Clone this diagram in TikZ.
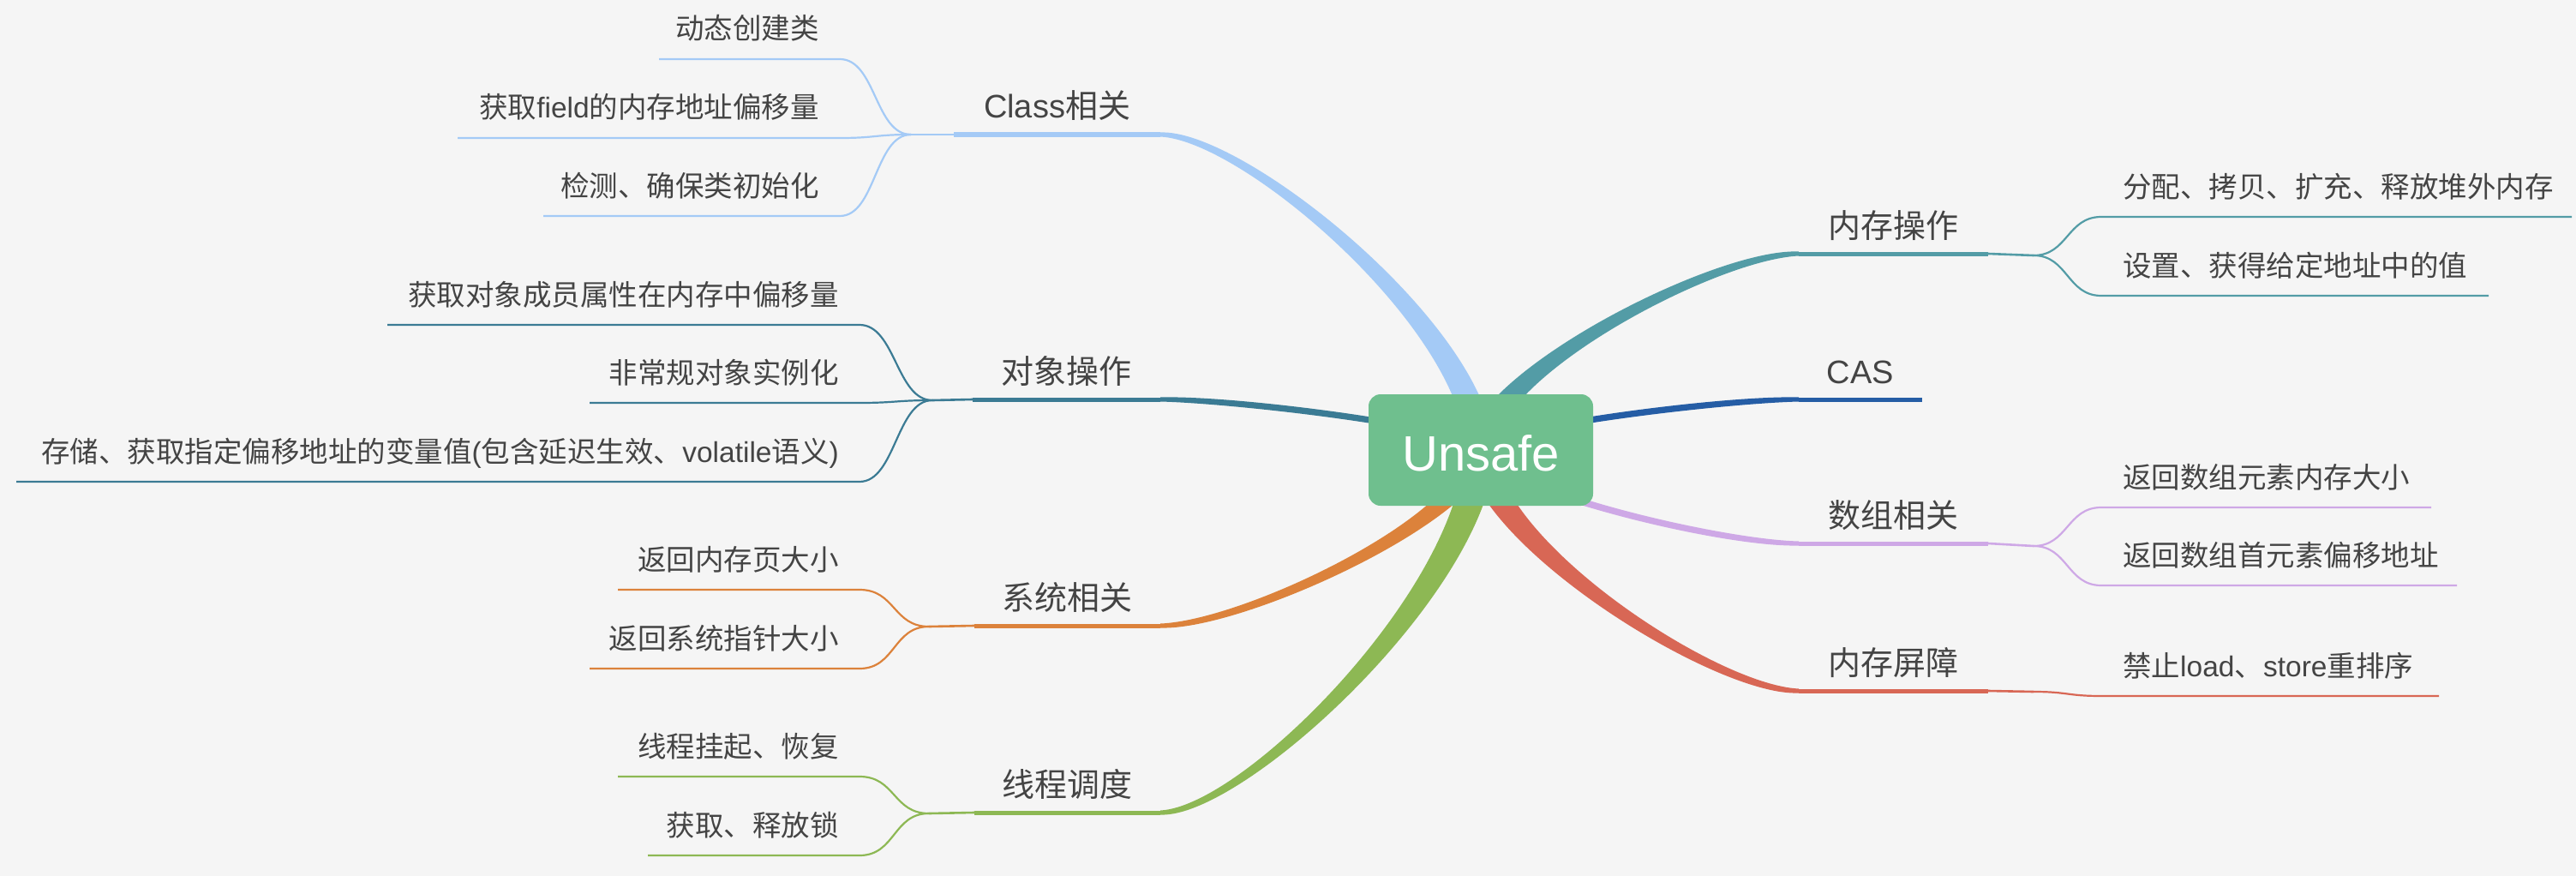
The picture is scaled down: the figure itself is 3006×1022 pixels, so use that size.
\documentclass[tikz,border=0pt]{standalone}
\usepackage{fontspec}
\setmainfont{Noto Sans CJK SC}
\newfontfamily\latf{Liberation Sans}
\usetikzlibrary{calc}
\definecolor{bgc}{HTML}{F5F5F5}
\definecolor{txt}{HTML}{444444}
\definecolor{rootc}{HTML}{6FBF8E}
\definecolor{clc}{HTML}{A4CAF6}
\definecolor{obc}{HTML}{3B7B94}
\definecolor{syc}{HTML}{DC823B}
\definecolor{thc}{HTML}{8DB854}
\definecolor{moc}{HTML}{539CA6}
\definecolor{casc}{HTML}{255DA5}
\definecolor{arc}{HTML}{CEA8E6}
\definecolor{mbc}{HTML}{D86755}
% #1 colour, #2 half width at root, #3 c1, #4 c2, #5 end, #6 half width at c2
\newcommand\mbranch[6]{%
  \fill[#1] ($(S)!#2!90:(#3)$) .. controls ($(#3)!#2!-90:(S)$) and ($(#4)!#6!90:(#5)$) .. ($(#5)!2.5pt!-90:(#4)$)
    -- ($(#5)!2.5pt!90:(#4)$) .. controls ($(#4)!#6!-90:(#5)$) and ($(#3)!#2!90:(S)$) .. ($(S)!#2!-90:(#3)$) -- cycle;}
\tikzset{
  ctext/.style={text=txt, inner sep=0pt, font=\fontsize{33.5}{40}\selectfont},
  mtext/.style={text=txt, inner sep=0pt, anchor=base, font=\fontsize{38}{44}\selectfont},
  uline/.style={line width=5pt},
  fline/.style={line width=2.6pt},
  cline/.style={line width=2.2pt},
  rootbox/.style={fill=rootc, rounded corners=14pt, minimum width=262pt, minimum height=130pt,
    text=white, inner sep=0pt, text height=48pt, text depth=0pt, font=\fontsize{58}{64}\selectfont\latf}
}
\begin{document}
\begin{tikzpicture}[x=1pt,y=-1pt]
\fill[bgc] (0,0) rectangle (3006,1022);
\useasboundingbox (0,0) rectangle (3006,1022);
\coordinate (S) at (1727,524);
% ---------- coordinates ----------
% Class
\coordinate (cl-c1) at (1720,381); \coordinate (cl-c2) at (1451,157); \coordinate (cl-e) at (1354,157);
\coordinate (cl-u) at (1113,157); \coordinate (cl-f) at (1063,157);
\coordinate (cl-ar) at (980,69); \coordinate (cl-al) at (769,69);
\coordinate (cl-br) at (980,161); \coordinate (cl-bl) at (534,161);
\coordinate (cl-cr) at (980,252); \coordinate (cl-cl) at (634,252);
% object
\coordinate (ob-c1) at (1720,501); \coordinate (ob-c2) at (1451,466); \coordinate (ob-e) at (1354,466);
\coordinate (ob-u) at (1135,466); \coordinate (ob-f) at (1088,467);
\coordinate (ob-ar) at (1003,379); \coordinate (ob-al) at (452,379);
\coordinate (ob-br) at (1003,470); \coordinate (ob-bl) at (688,470);
\coordinate (ob-cr) at (1003,562); \coordinate (ob-cl) at (19,562);
% system
\coordinate (sy-c1) at (1720,604); \coordinate (sy-c2) at (1451,730); \coordinate (sy-e) at (1354,730);
\coordinate (sy-u) at (1137,730); \coordinate (sy-f) at (1084,731);
\coordinate (sy-ar) at (1003,688); \coordinate (sy-al) at (721,688);
\coordinate (sy-br) at (1003,780); \coordinate (sy-bl) at (688,780);
% thread
\coordinate (th-c1) at (1720,689); \coordinate (th-c2) at (1451,948); \coordinate (th-e) at (1354,948);
\coordinate (th-u) at (1137,948); \coordinate (th-f) at (1084,949);
\coordinate (th-ar) at (1003,906); \coordinate (th-al) at (721,906);
\coordinate (th-br) at (1003,998); \coordinate (th-bl) at (756,998);
% memory op
\coordinate (mo-c1) at (1734,435); \coordinate (mo-c2) at (2002,296); \coordinate (mo-e) at (2099,296);
\coordinate (mo-u) at (2320,296); \coordinate (mo-f) at (2373,298);
\coordinate (mo-al) at (2452,253); \coordinate (mo-ar) at (3001,253);
\coordinate (mo-bl) at (2452,345); \coordinate (mo-br) at (2904,345);
% CAS
\coordinate (cas-c1) at (1734,501); \coordinate (cas-c2) at (2002,466); \coordinate (cas-e) at (2099,466);
\coordinate (cas-u) at (2243,466);
% array
\coordinate (ar-c1) at (1734,567); \coordinate (ar-c2) at (2002,634); \coordinate (ar-e) at (2099,634);
\coordinate (ar-u) at (2320,634); \coordinate (ar-f) at (2373,637);
\coordinate (ar-al) at (2452,592); \coordinate (ar-ar) at (2837,592);
\coordinate (ar-bl) at (2452,683); \coordinate (ar-br) at (2867,683);
% barrier
\coordinate (mb-c1) at (1734,634); \coordinate (mb-c2) at (2002,806); \coordinate (mb-e) at (2099,806);
\coordinate (mb-u) at (2320,806); \coordinate (mb-f) at (2373,807);
\coordinate (mb-al) at (2452,812); \coordinate (mb-ar) at (2846,812);
% ---------- main tapered branches ----------
\mbranch{clc}{16pt}{cl-c1}{cl-c2}{cl-e}{7pt}
\mbranch{obc}{7pt}{ob-c1}{ob-c2}{ob-e}{5pt}
\mbranch{syc}{15pt}{sy-c1}{sy-c2}{sy-e}{6pt}
\mbranch{thc}{18pt}{th-c1}{th-c2}{th-e}{7pt}
\mbranch{moc}{16pt}{mo-c1}{mo-c2}{mo-e}{7pt}
\mbranch{casc}{7pt}{cas-c1}{cas-c2}{cas-e}{5pt}
\mbranch{arc}{8pt}{ar-c1}{ar-c2}{ar-e}{5pt}
\mbranch{mbc}{17pt}{mb-c1}{mb-c2}{mb-e}{7pt}
% ---------- underlines ----------
\draw[uline,clc] (cl-e) -- (cl-u); \draw[fline,clc] (cl-u) -- (cl-f);
\draw[uline,obc] (ob-e) -- (ob-u); \draw[fline,obc] (ob-u) -- (ob-f);
\draw[uline,syc] (sy-e) -- (sy-u); \draw[fline,syc] (sy-u) -- (sy-f);
\draw[uline,thc] (th-e) -- (th-u); \draw[fline,thc] (th-u) -- (th-f);
\draw[uline,moc] (mo-e) -- (mo-u); \draw[fline,moc] (mo-u) -- (mo-f);
\draw[uline,casc] (cas-e) -- (cas-u);
\draw[uline,arc] (ar-e) -- (ar-u); \draw[fline,arc] (ar-u) -- (ar-f);
\draw[uline,mbc] (mb-e) -- (mb-u); \draw[fline,mbc] (mb-u) -- (mb-f);
% ---------- child connectors ----------
\foreach \p/\c in {cl-a/clc,cl-b/clc,cl-c/clc}{
  \draw[cline,\c] (cl-f) .. controls +(-42,0) and +(42,0) .. (\p r) -- (\p l);}
\foreach \p/\c in {ob-a/obc,ob-b/obc,ob-c/obc}{
  \draw[cline,\c] (ob-f) .. controls +(-42,0) and +(42,0) .. (\p r) -- (\p l);}
\foreach \p/\c in {sy-a/syc,sy-b/syc}{
  \draw[cline,\c] (sy-f) .. controls +(-42,0) and +(42,0) .. (\p r) -- (\p l);}
\foreach \p/\c in {th-a/thc,th-b/thc}{
  \draw[cline,\c] (th-f) .. controls +(-42,0) and +(42,0) .. (\p r) -- (\p l);}
\foreach \p/\c in {mo-a/moc,mo-b/moc}{
  \draw[cline,\c] (mo-f) .. controls +(40,0) and +(-40,0) .. (\p l) -- (\p r);}
\foreach \p/\c in {ar-a/arc,ar-b/arc}{
  \draw[cline,\c] (ar-f) .. controls +(40,0) and +(-40,0) .. (\p l) -- (\p r);}
\draw[cline,mbc] (mb-f) .. controls +(40,0) and +(-40,0) .. (mb-al) -- (mb-ar);
% ---------- main labels ----------
\node[mtext] (t-cl) at (1233.5,138) {{\latf Class}相关};
\node[mtext] (t-ob) at (1244.5,447) {对象操作};
\node[mtext] (t-sy) at (1245.5,711) {系统相关};
\node[mtext] (t-th) at (1245.5,929) {线程调度};
\node[mtext] (t-mo) at (2209.5,277) {内存操作};
\node[mtext] (t-cas) at (2171,447) {\latf CAS};
\node[mtext] (t-ar) at (2209.5,615) {数组相关};
\node[mtext] (t-mb) at (2209.5,787) {内存屏障};
% ---------- child labels ----------
\node[ctext,anchor=base east] (t-cla) at (956,46) {动态创建类};
\node[ctext,anchor=base east] (t-clb) at (956,138) {获取{\latf field}的内存地址偏移量};
\node[ctext,anchor=base east] (t-clc) at (956,229) {检测、确保类初始化};
\node[ctext,anchor=base east] (t-oba) at (979,356) {获取对象成员属性在内存中偏移量};
\node[ctext,anchor=base east] (t-obb) at (979,447) {非常规对象实例化};
\node[ctext,anchor=base east] (t-obc) at (979,539) {存储、获取指定偏移地址的变量值{\latf (}包含延迟生效、{\latf volatile}语义{\latf )}};
\node[ctext,anchor=base east] (t-sya) at (979,665) {返回内存页大小};
\node[ctext,anchor=base east] (t-syb) at (979,757) {返回系统指针大小};
\node[ctext,anchor=base east] (t-tha) at (979,883) {线程挂起、恢复};
\node[ctext,anchor=base east] (t-thb) at (979,975) {获取、释放锁};
\node[ctext,anchor=base west] (t-moa) at (2477,230) {分配、拷贝、扩充、释放堆外内存};
\node[ctext,anchor=base west] (t-mob) at (2477,322) {设置、获得给定地址中的值};
\node[ctext,anchor=base west] (t-ara) at (2477,569) {返回数组元素内存大小};
\node[ctext,anchor=base west] (t-arb) at (2477,660) {返回数组首元素偏移地址};
\node[ctext,anchor=base west] (t-mba) at (2477,789) {禁止{\latf load}、{\latf store}重排序};
% ---------- root ----------
\node[rootbox] (root) at (1728,525) {Unsafe};
\end{tikzpicture}
\end{document}
